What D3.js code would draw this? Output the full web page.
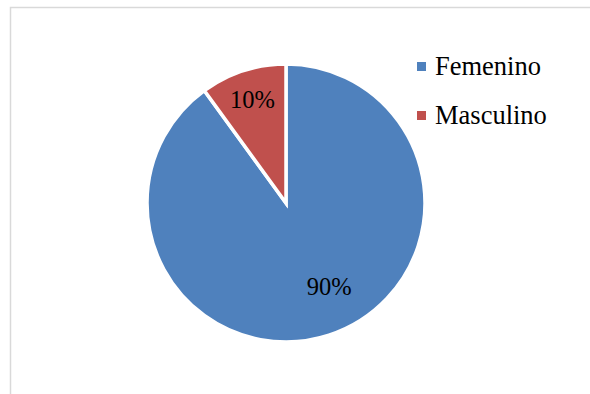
<!DOCTYPE html>
<html>
<head>
<meta charset="utf-8">
<script src="https://cdn.jsdelivr.net/npm/d3@7"></script>
<style>
  html, body { margin: 0; padding: 0; background: #fff; }
  svg { display: block; }
</style>
</head>
<body>
<svg id="chart" width="590" height="394"></svg>
<script>
// Gender breakdown (percent)
const categories = ["Femenino", "Masculino"];
const values = [90, 10];
const labels = ["90%", "10%"];
const colors = ["#4f81bd", "#c0504d"];

const FONT = '"Liberation Serif"';

const svg = d3.select("#chart");
const W = 590, H = 394;

// Chart area frame (runs off the right and bottom edges)
svg.append("rect")
  .attr("x", 10.5).attr("y", 7.5)
  .attr("width", W + 20).attr("height", H + 20)
  .attr("fill", "#fff")
  .attr("stroke", "#d9d9d9")
  .attr("stroke-width", 1.5);

const cx = 286, cy = 203, r = 139;

// Femenino starts at 12 o'clock and runs clockwise
const pie = d3.pie().sort(null).value(d => d);
const arcs = pie(values);

const arc = d3.arc().innerRadius(0).outerRadius(r);

const g = svg.append("g").attr("transform", `translate(${cx},${cy})`);

g.selectAll("path.slice")
  .data(arcs)
  .join("path")
  .attr("class", "slice")
  .attr("d", arc)
  .attr("fill", (d, i) => colors[i])
  .attr("stroke", "#fff")
  .attr("stroke-width", 3.5)
  .attr("stroke-linejoin", "miter");

// Data labels placed along each slice's bisector
const labelRadius = [0.68, 0.78];
const labelTurn = [-0.16, 0];
g.selectAll("text.lbl")
  .data(arcs)
  .join("text")
  .attr("class", "lbl")
  .attr("transform", (d, i) => {
    const a = (d.startAngle + d.endAngle) / 2 + labelTurn[i];
    const rr = r * labelRadius[i];
    return `translate(${Math.sin(a) * rr},${-Math.cos(a) * rr})`;
  })
  .attr("text-anchor", "middle")
  .attr("dy", "0.33em")
  .attr("font-family", FONT)
  .attr("font-size", 24.5)
  .attr("fill", "#000")
  .text((d, i) => labels[i]);

// Legend
const legend = svg.append("g").attr("transform", "translate(417,0)");
const legendY = d3.scalePoint().domain(categories).range([66.5, 115.5]);
const items = legend.selectAll("g.item")
  .data(categories)
  .join("g")
  .attr("class", "item")
  .attr("transform", d => `translate(0,${legendY(d)})`);
items.append("rect")
  .attr("x", 0).attr("y", -4.5)
  .attr("width", 9).attr("height", 9)
  .attr("fill", (d, i) => colors[i]);
items.append("text")
  .attr("x", 18)
  .attr("y", 8.5)
  .attr("font-family", FONT)
  .attr("font-size", 26.5)
  .attr("fill", "#000")
  .text(d => d);
</script>
</body>
</html>
